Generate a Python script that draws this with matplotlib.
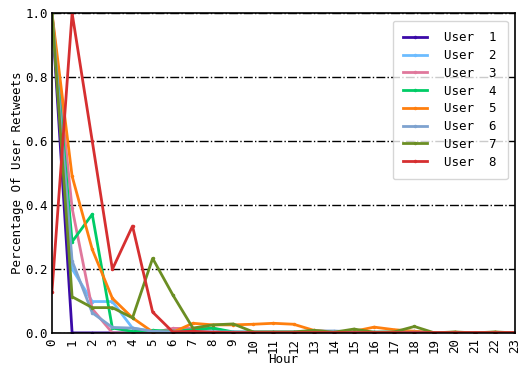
import matplotlib
matplotlib.use("Agg")
import matplotlib.pyplot as plt

plt.rcParams['font.family'] = ['DejaVu Sans Mono']

hours = list(range(24))
labels = ["User  1", "User  2", "User  3", "User  4",
          "User  5", "User  6", "User  7", "User  8"]
colors = ["#3b0aa8", "#6cbcff", "#e0789c", "#00cc66",
          "#ff7f0e", "#7ea2cf", "#6b8e23", "#d62f30"]

user1 = [1.0, 0.0, 0, 0, 0, 0, 0, 0, 0, 0, 0, 0, 0, 0, 0, 0, 0, 0, 0, 0, 0, 0, 0, 0]
user2 = [1.0, 0.20, 0.098, 0.098, 0.015, 0.005, 0.003, 0.003, 0.003, 0.002, 0.002, 0.002,
         0.002, 0.002, 0.002, 0.002, 0.002, 0.002, 0.002, 0.001, 0.001, 0.001, 0.001, 0.001]
user3 = [1.0, 0.39, 0.075, 0.0, 0.0, 0.0, 0.014, 0.014, 0.014, 0.0, 0, 0, 0, 0, 0, 0, 0, 0,
         0.005, 0, 0, 0, 0, 0]
user4 = [1.0, 0.285, 0.371, 0.015, 0.005, 0.008, 0.005, 0.01, 0.015, 0.003, 0.002, 0.002,
         0.002, 0.002, 0.002, 0.002, 0.002, 0.002, 0.002, 0.001, 0.001, 0.001, 0.001, 0.001]
user5 = [1.0, 0.49, 0.261, 0.108, 0.047, 0.003, 0.002, 0.03, 0.025, 0.025, 0.027, 0.03,
         0.027, 0.008, 0.003, 0.005, 0.018, 0.01, 0.005, 0.0, 0.002, 0.0, 0.002, 0.0]
user6 = [1.0, 0.225, 0.063, 0.017, 0.015, 0.005, 0.003, 0.003, 0.003, 0.003, 0.003, 0.003,
         0.003, 0.006, 0.006, 0.003, 0.002, 0.002, 0.002, 0.001, 0.001, 0.001, 0.001, 0.001]
user7 = [1.0, 0.113, 0.079, 0.079, 0.047, 0.233, 0.119, 0.015, 0.025, 0.028, 0.003, 0.003,
         0.003, 0.008, 0.002, 0.012, 0.002, 0.003, 0.02, 0.0, 0.003, 0.0, 0.003, 0.0]
user8 = [0.129, 1.0, 0.6, 0.199, 0.334, 0.065, 0.003, 0.005, 0.002, 0.001, 0.001, 0.001,
         0.001, 0.001, 0.001, 0.001, 0.001, 0.001, 0.001, 0.001, 0.001, 0.001, 0.001, 0.001]
users = [user1, user2, user3, user4, user5, user6, user7, user8]

fig = plt.figure(figsize=(5.25, 3.65), dpi=100)
ax = fig.add_axes([0.099, 0.088, 0.882, 0.876])

for vals, lab, col in zip(users, labels, colors):
    ax.plot(hours, vals, color=col, linewidth=2, marker='.', markersize=3, label=lab)

ax.set_xlim(0, 23)
ax.set_ylim(0, 1.0)
ax.set_xticks(hours)
ax.set_xticklabels([str(h) for h in hours], rotation=90, fontsize=9)
ax.set_yticks([0, 0.2, 0.4, 0.6, 0.8, 1.0])
ax.set_yticklabels(["0.0", "0.2", "0.4", "0.6", "0.8", "1.0"], fontsize=9)
ax.tick_params(axis='y', length=0, pad=3)
ax.tick_params(axis='x', length=0, pad=4)
ax.yaxis.grid(True, color='black', linestyle='-.', linewidth=1)
ax.set_axisbelow(True)
for s in ax.spines.values():
    s.set_linewidth(1.2)

ax.set_xlabel("Hour", fontsize=9, labelpad=0)
ax.set_ylabel("Percentage Of User Retweets", fontsize=9, labelpad=1)
ax.legend(loc='upper right', fontsize=9, handlelength=1.9, handletextpad=1.4,
          labelspacing=0.38, borderpad=0.85, borderaxespad=0.6)

fig.savefig("out.png", dpi=100)
